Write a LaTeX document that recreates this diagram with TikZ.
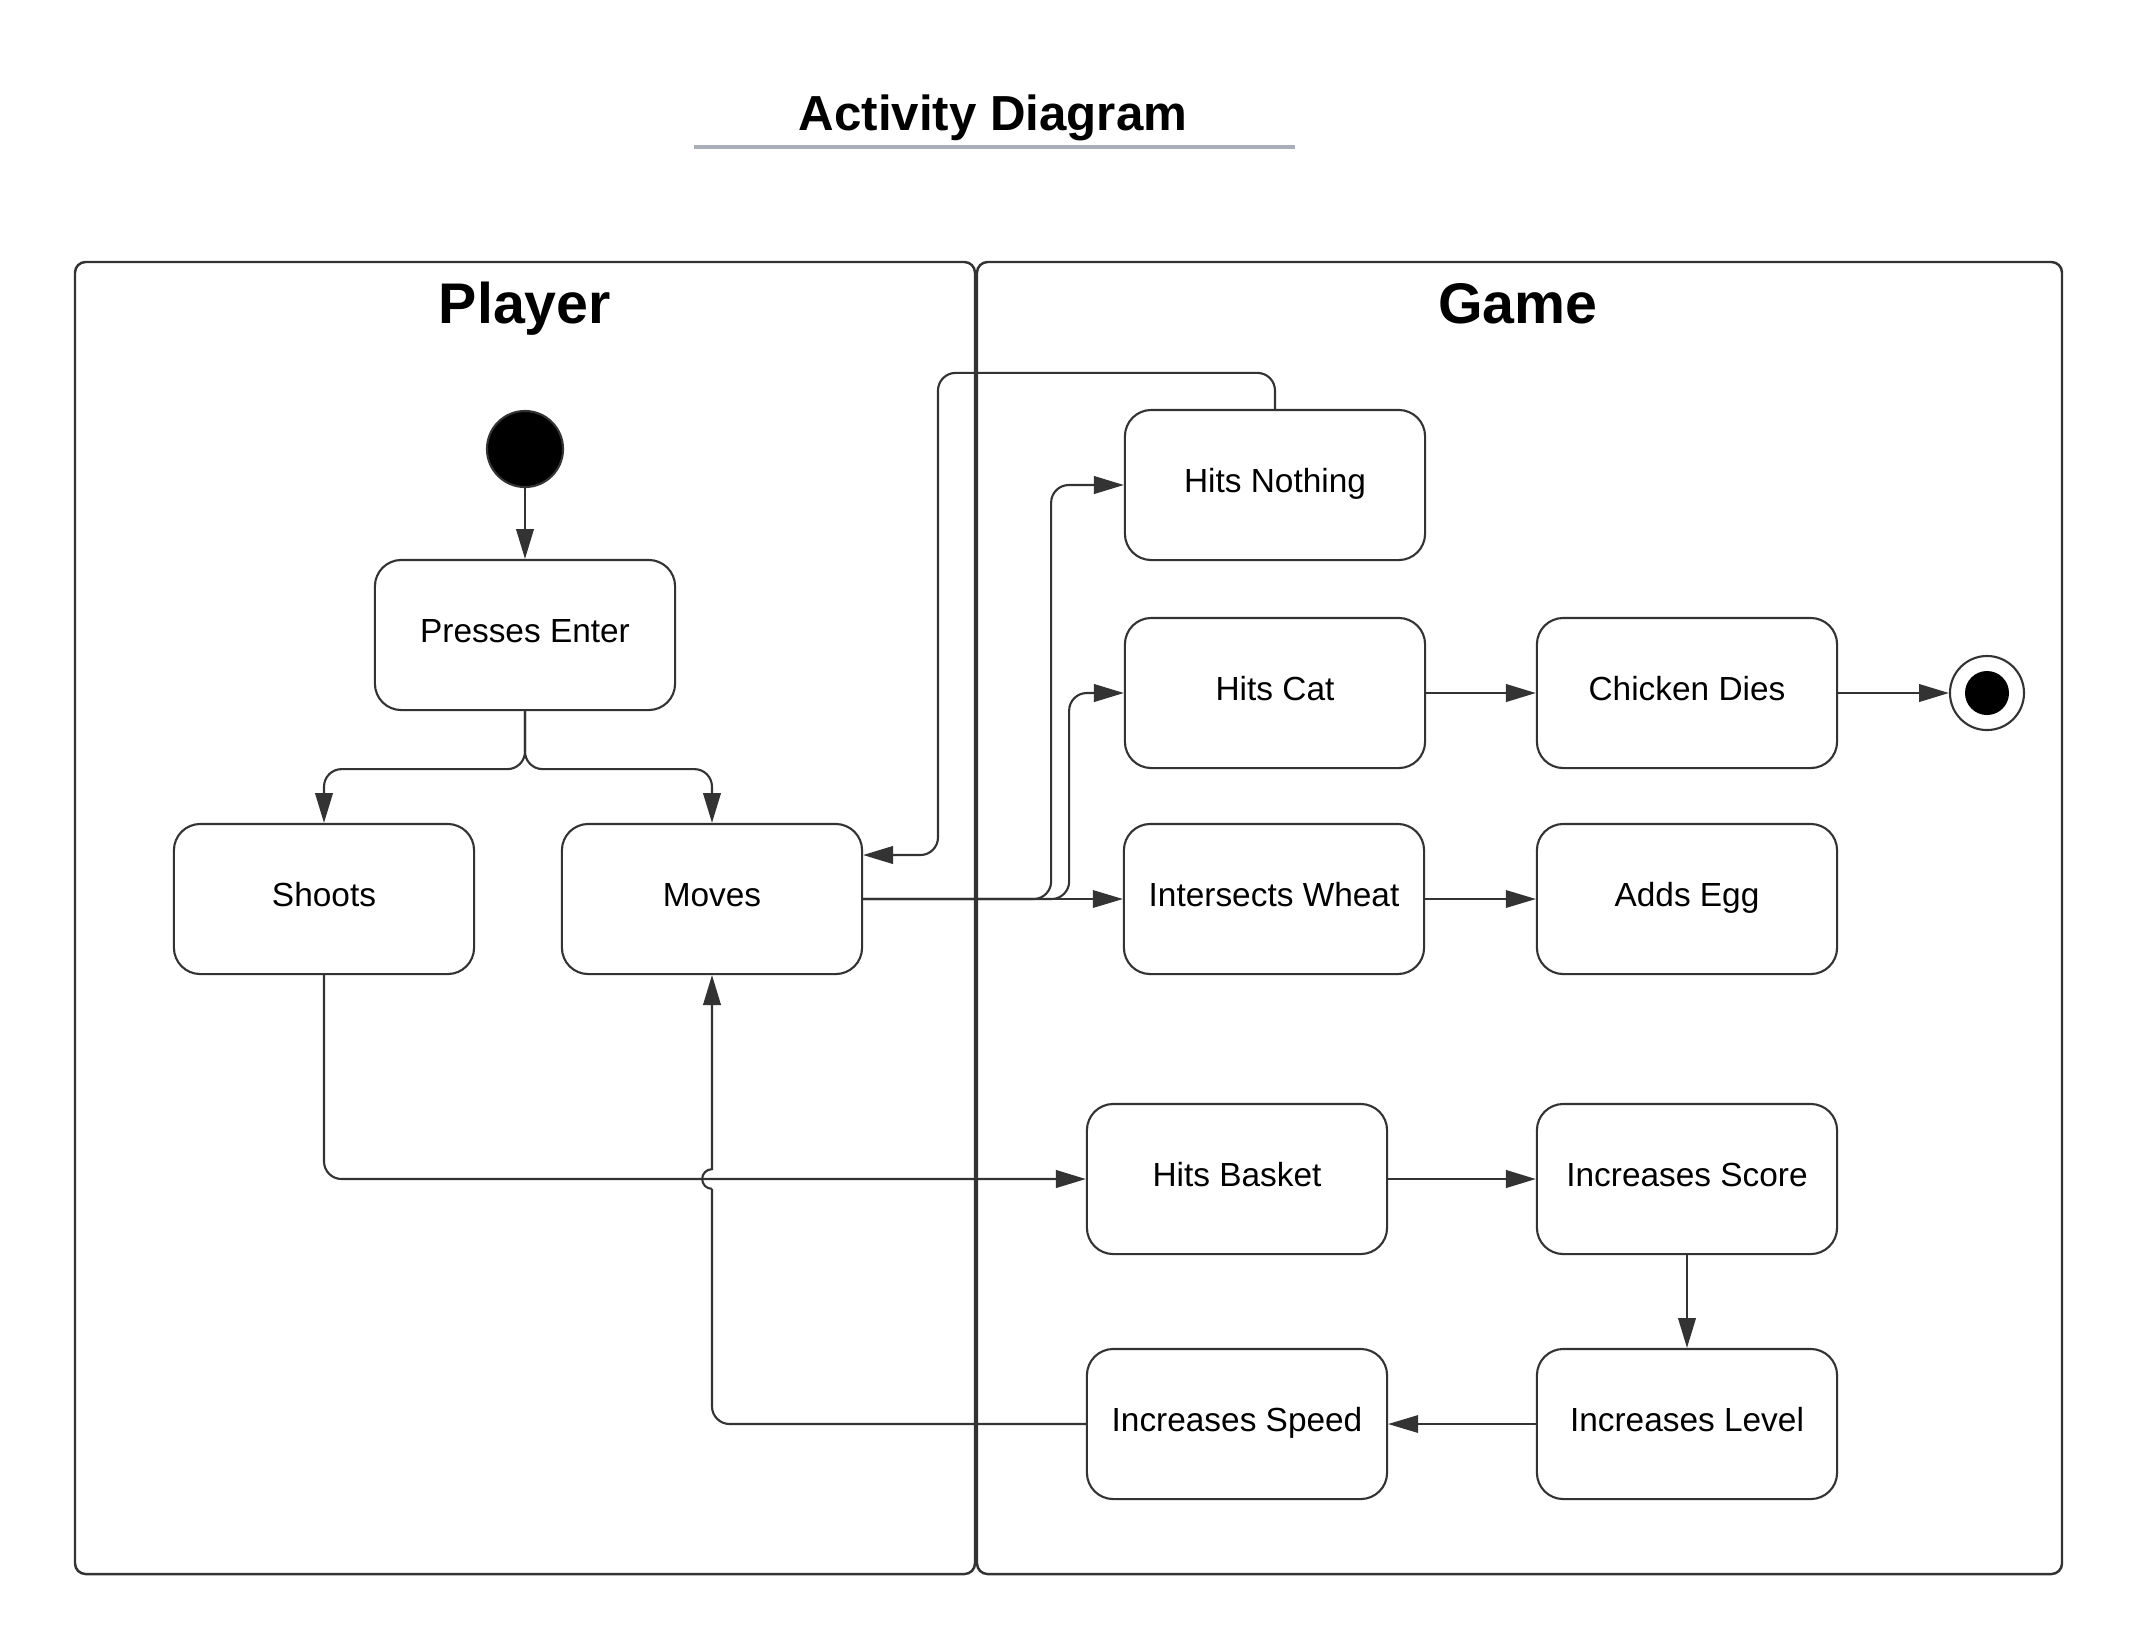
\documentclass[tikz,border=0pt]{standalone}
\usepackage{fontspec}
\setmainfont{Liberation Sans}
\usetikzlibrary{arrows.meta,calc,positioning}
\definecolor{linea}{HTML}{333333}
\definecolor{subrayado}{HTML}{A9AFB9}

\begin{document}
\begin{tikzpicture}[x=0.01cm,y=-0.01cm,
  activity/.style={draw=linea,line width=0.6pt,rounded corners=7.5pt,minimum width=3cm,
    minimum height=1.5cm,inner sep=0pt,text height=7pt,text depth=3pt,
    font=\fontsize{9.5}{11}\selectfont},
  lanebox/.style={draw=linea,line width=0.7pt,rounded corners=3pt},
  lanetitle/.style={font=\fontsize{16.3}{19}\selectfont\bfseries,text depth=0pt},
  flow/.style={draw=linea,line width=0.6pt,rounded corners=5pt,-{Triangle[length=8.5pt,width=5pt]}},
  thinflow/.style={flow,line width=0.35pt}]
\useasboundingbox (0,0) rectangle (2138,1650);

% title
\node[font=\fontsize{14}{17}\selectfont\bfseries,text depth=0pt] (title) at (993,113) {Activity Diagram};
\draw[subrayado,line width=1.1pt] (694,147) -- (1295,147);

% swimlanes
\draw[lanebox] (75,262) rectangle (975,1574);
\draw[lanebox] (977,262) rectangle (2062,1574);
\node[lanetitle] (player) at (525,303) {Player};
\node[lanetitle] (game) at (1518,303) {Game};

% player lane
\node[circle,fill=black,draw=linea,line width=0.6pt,minimum size=0.76cm,inner sep=0pt] (start) at (525,449) {};
\node[activity] (enter) at (525,635) {Presses Enter};
\node[activity] (shoots) at (324,899) {Shoots};
\node[activity] (moves) at (712,899) {Moves};

% game lane
\node[activity] (nothing) at (1275,485) {Hits Nothing};
\node[activity] (cat) at (1275,693) {Hits Cat};
\node[activity] (dies) at (1687,693) {Chicken Dies};
\node[circle,draw=linea,line width=0.6pt,fill=white,minimum size=0.74cm,inner sep=0pt] (end) at (1987,693) {};
\fill (end) circle[radius=0.22cm];
\node[activity] (wheat) at (1274,899) {Intersects Wheat};
\node[activity] (egg) at (1687,899) {Adds Egg};
\node[activity] (basket) at (1237,1179) {Hits Basket};
\node[activity] (score) at (1687,1179) {Increases Score};
\node[activity] (speed) at (1237,1424) {Increases Speed};
\node[activity] (level) at (1687,1424) {Increases Level};

% connectors
\draw[flow] (start) -- (enter);
\draw[flow] (enter.south) -- ++(0,58) -| (shoots.north);
\draw[flow] (enter.south) -- ++(0,58) -| (moves.north);
\draw[thinflow] (moves.east) -- (wheat.west);
\draw[flow] (moves.east) -- ++(206,0) |- (cat.west);
\draw[flow] (moves.east) -- ++(188,0) |- (nothing.west);
\draw[flow] (nothing.north) -- ++(0,-36) -| (938,855) -- ($(moves.east)+(0,-44)$);
\draw[flow] (cat) -- (dies);
\draw[flow] (dies) -- (end);
\draw[thinflow] (wheat) -- (egg);
\draw[flow] (shoots.south) |- (basket.west);
\draw[flow] (basket) -- (score);
\draw[flow] (score) -- (level);
\draw[thinflow] (level) -- (speed);
% line jump where the two connectors cross
\coordinate (cross) at (moves.south |- basket.west);
\draw[flow,-] (speed.west) -| ([yshift=-2.8pt]cross);
\draw[flow,sharp corners] ([yshift=-2.8pt]cross)
  arc[start angle=-90,end angle=-270,radius=2.8pt] -- (moves.south);
\end{tikzpicture}
\end{document}
